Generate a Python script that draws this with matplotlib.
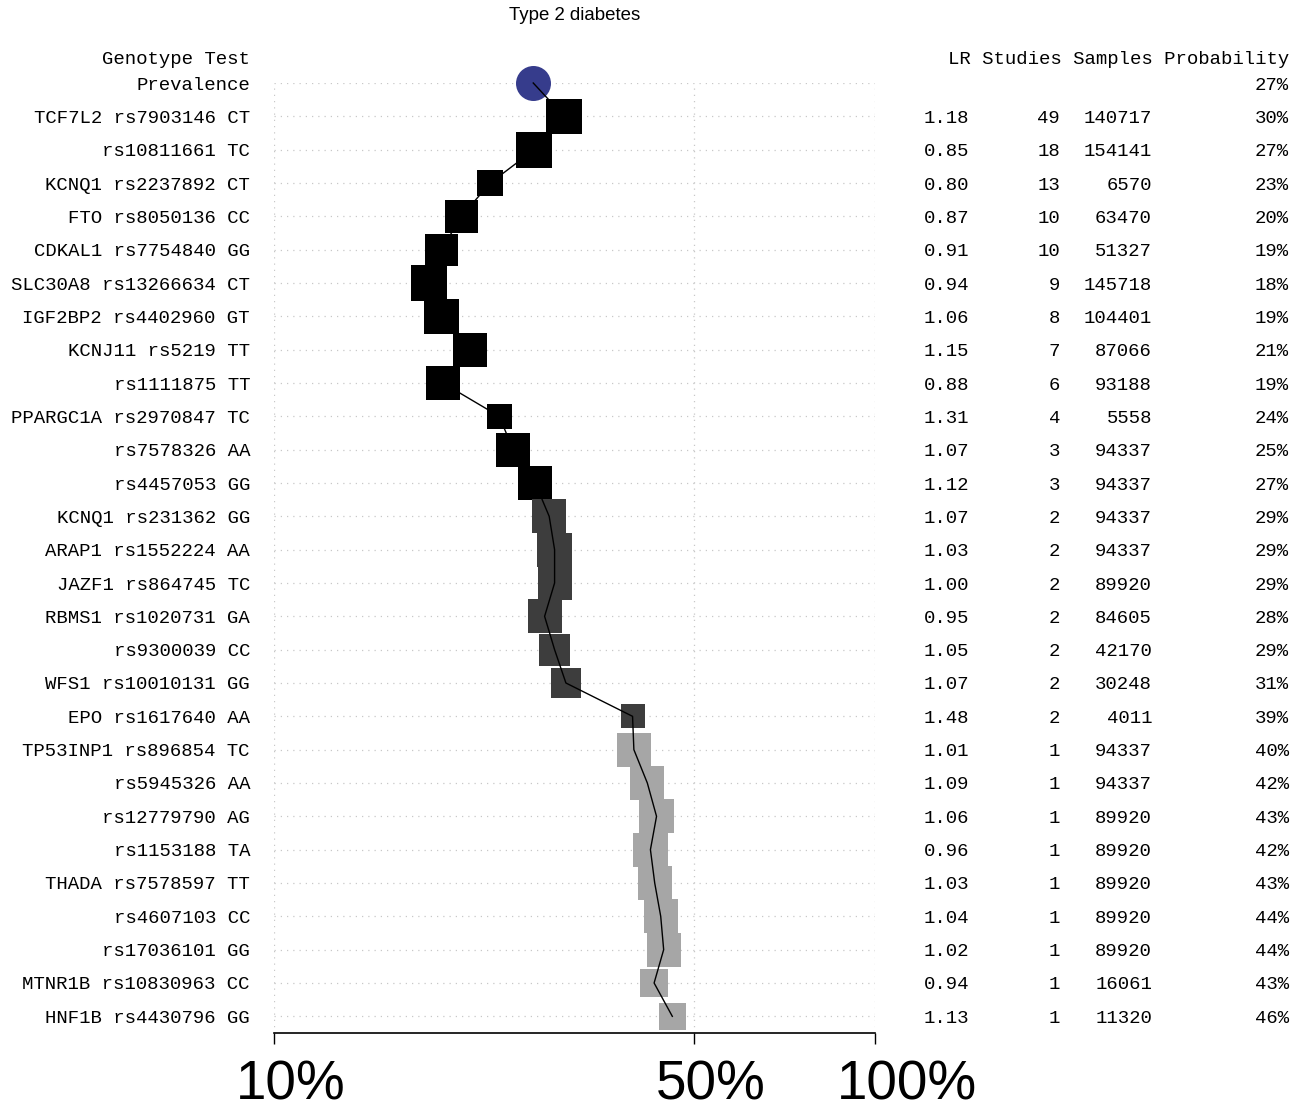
import numpy as np
import matplotlib
matplotlib.use('Agg')
import matplotlib.pyplot as plt
import matplotlib.transforms as mtransforms
from matplotlib.ticker import NullLocator

# data
title = 'Type 2 diabetes'
prevalence = 0.27
prevalence_label = '27%'

genotypes = ['TCF7L2 rs7903146 CT', 'rs10811661 TC', 'KCNQ1 rs2237892 CT',
             'FTO rs8050136 CC', 'CDKAL1 rs7754840 GG', 'SLC30A8 rs13266634 CT',
             'IGF2BP2 rs4402960 GT', 'KCNJ11 rs5219 TT', 'rs1111875 TT',
             'PPARGC1A rs2970847 TC', 'rs7578326 AA', 'rs4457053 GG',
             'KCNQ1 rs231362 GG', 'ARAP1 rs1552224 AA', 'JAZF1 rs864745 TC',
             'RBMS1 rs1020731 GA', 'rs9300039 CC', 'WFS1 rs10010131 GG',
             'EPO rs1617640 AA', 'TP53INP1 rs896854 TC', 'rs5945326 AA',
             'rs12779790 AG', 'rs1153188 TA', 'THADA rs7578597 TT',
             'rs4607103 CC', 'rs17036101 GG', 'MTNR1B rs10830963 CC',
             'HNF1B rs4430796 GG']
lr = [1.18, 0.85, 0.80, 0.87, 0.91, 0.94, 1.06, 1.15, 0.88, 1.31, 1.07, 1.12,
      1.07, 1.03, 1.00, 0.95, 1.05, 1.07, 1.48, 1.01, 1.09, 1.06, 0.96, 1.03,
      1.04, 1.02, 0.94, 1.13]
studies = [49, 18, 13, 10, 10, 9, 8, 7, 6, 4, 3, 3,
           2, 2, 2, 2, 2, 2, 2, 1, 1, 1, 1, 1, 1, 1, 1, 1]
samples = [140717, 154141, 6570, 63470, 51327, 145718, 104401, 87066, 93188,
           5558, 94337, 94337, 94337, 94337, 89920, 84605, 42170, 30248, 4011,
           94337, 94337, 89920, 89920, 89920, 89920, 89920, 16061, 11320]
prob_labels = ['30%', '27%', '23%', '20%', '19%', '18%', '19%', '21%', '19%',
               '24%', '25%', '27%', '29%', '29%', '29%', '28%', '29%', '31%',
               '39%', '40%', '42%', '43%', '42%', '43%', '44%', '44%', '43%',
               '46%']
# estimated positions of the squares (probability after each test)
prob = [0.304, 0.271, 0.229, 0.205, 0.190, 0.181, 0.190, 0.212, 0.191,
        0.237, 0.250, 0.272, 0.287, 0.293, 0.293, 0.282, 0.293, 0.306,
        0.395, 0.397, 0.418, 0.433, 0.423, 0.430, 0.440, 0.445, 0.429, 0.460]

xticks = [0.1, 0.5, 1.0]
xtick_labels = ['10%', '50%', '100%']

W, H = 1295, 1109
fig = plt.figure(figsize=(W / 100, H / 100), dpi=100)
ax = fig.add_axes([274 / W, (H - 1033) / H, 601 / W, (1033 - 83) / H])

n = len(genotypes)
rows = np.arange(1, n + 1)

# colours by number of studies
colors = []
for s in studies:
    if s >= 3:
        colors.append('#000000')
    elif s == 2:
        colors.append('#3d3d3d')
    else:
        colors.append('#a6a6a6')

# square size grows with log of the sample size (pixels)
side_px = 24 + 7.5 * (np.log10(samples) - 3.6)
ax.scatter(prob, rows, s=(side_px * 0.72) ** 2, marker='s', c=colors,
           linewidths=0, zorder=2, clip_on=False)
ax.scatter([prevalence], [0], s=(35 * 0.72) ** 2, marker='o', c='#363c8c',
           linewidths=0, zorder=2, clip_on=False)
ax.plot([prevalence] + prob, np.arange(0, n + 1), color='black', lw=1.0,
        zorder=3, clip_on=False)

ax.set_xscale('log')
ax.set_xlim(0.1, 1.0)
ax.set_ylim(n + 0.5, 0)
ax.set_xticks(xticks)
ax.set_xticklabels([''] * len(xticks))
ax.xaxis.set_minor_locator(NullLocator())
ax.set_yticks(np.arange(0, n + 1))
ax.tick_params(axis='y', length=0, labelleft=False)
ax.tick_params(axis='x', length=8, width=1, color='black')
ax.grid(True, color='#c8c8c8', linestyle=(0, (1, 4)), linewidth=0.9)
ax.set_axisbelow(True)
for sp in ['top', 'left', 'right']:
    ax.spines[sp].set_visible(False)
ax.spines['bottom'].set_linewidth(1.2)

# big tick labels
trans = mtransforms.blended_transform_factory(ax.transData, fig.transFigure)
trans = trans + mtransforms.ScaledTranslation(-0.38, 0, fig.dpi_scale_trans)
for xv, lab in zip(xticks, xtick_labels):
    ax.text(xv, 10 / H, lab, transform=trans, ha='left', va='baseline',
            fontsize=39.5, family='Liberation Sans')

fig.text(574.5 / W, 1 - 15 / H, title, ha='center', va='center',
         fontsize=13.4, family='Liberation Sans')

mono = dict(family='Liberation Mono', fontsize=13.7, va='center_baseline')
tr = mtransforms.blended_transform_factory(fig.transFigure, ax.transData)

def px(x):
    return x / W

fig.text(px(250), -0.75, 'Genotype Test', ha='right', transform=tr, **mono)
fig.text(px(1289), -0.75, 'LR Studies Samples Probability', ha='right',
         transform=tr, **mono)
fig.text(px(250), 0, 'Prevalence', ha='right', transform=tr, **mono)
fig.text(px(1289), 0, prevalence_label, ha='right', transform=tr, **mono)

for i in range(n):
    y = rows[i]
    fig.text(px(250), y, genotypes[i], ha='right', transform=tr, **mono)
    fig.text(px(969), y, '%.2f' % lr[i], ha='right', transform=tr, **mono)
    fig.text(px(1060), y, str(studies[i]), ha='right', transform=tr, **mono)
    fig.text(px(1152), y, str(samples[i]), ha='right', transform=tr, **mono)
    fig.text(px(1289), y, prob_labels[i], ha='right', transform=tr, **mono)

fig.savefig('out.png', dpi=100)
